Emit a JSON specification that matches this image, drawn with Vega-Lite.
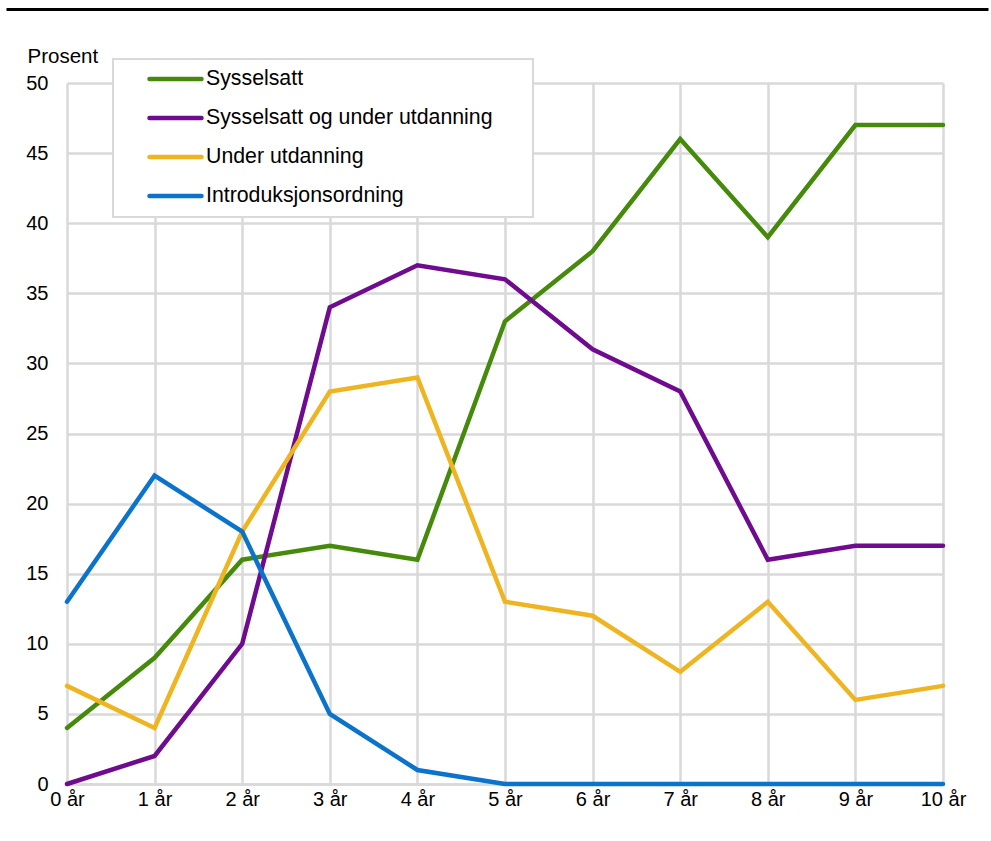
{
  "$schema": "https://vega.github.io/schema/vega-lite/v6.json",
  "width": 876,
  "height": 701,
  "autosize": "none",
  "padding": {"left": 67, "top": 83, "right": 48, "bottom": 57},
  "background": "white",
  "config": {
    "font": "Liberation Sans",
    "view": {"stroke": null},
    "axis": {"labelFont": "Liberation Sans", "labelColor": "#000000", "labelFontSize": 20, "gridColor": "#d9d9d9", "gridWidth": 2.5, "ticks": false}
  },
  "data": {
    "values": [
      {"ar": 0, "serie": "Sysselsatt", "verdi": 4},
      {"ar": 1, "serie": "Sysselsatt", "verdi": 9},
      {"ar": 2, "serie": "Sysselsatt", "verdi": 16},
      {"ar": 3, "serie": "Sysselsatt", "verdi": 17},
      {"ar": 4, "serie": "Sysselsatt", "verdi": 16},
      {"ar": 5, "serie": "Sysselsatt", "verdi": 33},
      {"ar": 6, "serie": "Sysselsatt", "verdi": 38},
      {"ar": 7, "serie": "Sysselsatt", "verdi": 46},
      {"ar": 8, "serie": "Sysselsatt", "verdi": 39},
      {"ar": 9, "serie": "Sysselsatt", "verdi": 47},
      {"ar": 10, "serie": "Sysselsatt", "verdi": 47},
      {"ar": 0, "serie": "Sysselsatt og under utdanning", "verdi": 0},
      {"ar": 1, "serie": "Sysselsatt og under utdanning", "verdi": 2},
      {"ar": 2, "serie": "Sysselsatt og under utdanning", "verdi": 10},
      {"ar": 3, "serie": "Sysselsatt og under utdanning", "verdi": 34},
      {"ar": 4, "serie": "Sysselsatt og under utdanning", "verdi": 37},
      {"ar": 5, "serie": "Sysselsatt og under utdanning", "verdi": 36},
      {"ar": 6, "serie": "Sysselsatt og under utdanning", "verdi": 31},
      {"ar": 7, "serie": "Sysselsatt og under utdanning", "verdi": 28},
      {"ar": 8, "serie": "Sysselsatt og under utdanning", "verdi": 16},
      {"ar": 9, "serie": "Sysselsatt og under utdanning", "verdi": 17},
      {"ar": 10, "serie": "Sysselsatt og under utdanning", "verdi": 17},
      {"ar": 0, "serie": "Under utdanning", "verdi": 7},
      {"ar": 1, "serie": "Under utdanning", "verdi": 4},
      {"ar": 2, "serie": "Under utdanning", "verdi": 18},
      {"ar": 3, "serie": "Under utdanning", "verdi": 28},
      {"ar": 4, "serie": "Under utdanning", "verdi": 29},
      {"ar": 5, "serie": "Under utdanning", "verdi": 13},
      {"ar": 6, "serie": "Under utdanning", "verdi": 12},
      {"ar": 7, "serie": "Under utdanning", "verdi": 8},
      {"ar": 8, "serie": "Under utdanning", "verdi": 13},
      {"ar": 9, "serie": "Under utdanning", "verdi": 6},
      {"ar": 10, "serie": "Under utdanning", "verdi": 7},
      {"ar": 0, "serie": "Introduksjonsordning", "verdi": 13},
      {"ar": 1, "serie": "Introduksjonsordning", "verdi": 22},
      {"ar": 2, "serie": "Introduksjonsordning", "verdi": 18},
      {"ar": 3, "serie": "Introduksjonsordning", "verdi": 5},
      {"ar": 4, "serie": "Introduksjonsordning", "verdi": 1},
      {"ar": 5, "serie": "Introduksjonsordning", "verdi": 0},
      {"ar": 6, "serie": "Introduksjonsordning", "verdi": 0},
      {"ar": 7, "serie": "Introduksjonsordning", "verdi": 0},
      {"ar": 8, "serie": "Introduksjonsordning", "verdi": 0},
      {"ar": 9, "serie": "Introduksjonsordning", "verdi": 0},
      {"ar": 10, "serie": "Introduksjonsordning", "verdi": 0}
    ]
  },
  "resolve": {"scale": {"x": "independent"}, "axis": {"x": "independent"}},
  "layer": [
    {
      "mark": {"type": "line", "strokeWidth": 4.5, "strokeJoin": "miter", "strokeCap": "round", "clip": false},
      "encoding": {
        "x": {
          "field": "ar", "type": "quantitative",
          "scale": {"domain": [0, 10], "nice": false, "zero": false},
          "axis": {"orient": "bottom", "grid": true, "values": [0,1,2,3,4,5,6,7,8,9,10], "labelExpr": "datum.value + ' år'", "title": null, "labelPadding": 5, "domain": true, "domainColor": "#d9d9d9", "domainWidth": 2.5, "labelFlush": false}
        },
        "y": {
          "field": "verdi", "type": "quantitative",
          "scale": {"domain": [0, 50], "nice": false},
          "axis": {"values": [0,5,10,15,20,25,30,35,40,45,50], "title": "Prosent", "titleAngle": 0, "titleAlign": "left", "titleBaseline": "alphabetic", "titleX": -40, "titleY": -21, "titleFont": "Liberation Sans", "titleFontSize": 20.5, "titleFontWeight": "normal", "titleColor": "#000000", "labelPadding": 19, "domain": false}
        },
        "color": {
          "field": "serie", "type": "nominal",
          "scale": {
            "domain": ["Sysselsatt", "Sysselsatt og under utdanning", "Under utdanning", "Introduksjonsordning"],
            "range": ["#468a0c", "#6e0b8e", "#efb520", "#0b73cc"]
          },
          "legend": {
            "title": " ", "titleOrient": "right", "titlePadding": 30, "titleFontSize": 4,
            "orient": "none", "legendX": 46, "legendY": -24,
            "symbolType": "stroke", "symbolSize": 2704, "symbolStrokeWidth": 4.5,
            "labelFont": "Liberation Sans", "labelFontSize": 21.3, "labelColor": "#000000",
            "labelOffset": 2, "labelLimit": 400, "clipHeight": 20,
            "fillColor": "white", "strokeColor": "#d9d9d9",
            "padding": 10, "symbolOffset": 24, "rowPadding": 17,
            "encode": {"legend": {"update": {"strokeWidth": {"value": 2}}}, "symbols": {"update": {"strokeCap": {"value": "round"}}}}
          }
        }
      }
    },
    {
      "mark": {"type": "line", "opacity": 0, "clip": false},
      "encoding": {
        "x": {
          "field": "ar", "type": "quantitative",
          "scale": {"domain": [0, 10], "nice": false, "zero": false, "range": [-61, 921]},
          "axis": {"orient": "top", "offset": 74, "title": null, "labels": false, "grid": false, "ticks": false, "domain": true, "domainColor": "#000000", "domainWidth": 3}
        },
        "y": {"field": "verdi", "type": "quantitative", "scale": {"domain": [0, 50], "nice": false}}
      }
    }
  ]
}
